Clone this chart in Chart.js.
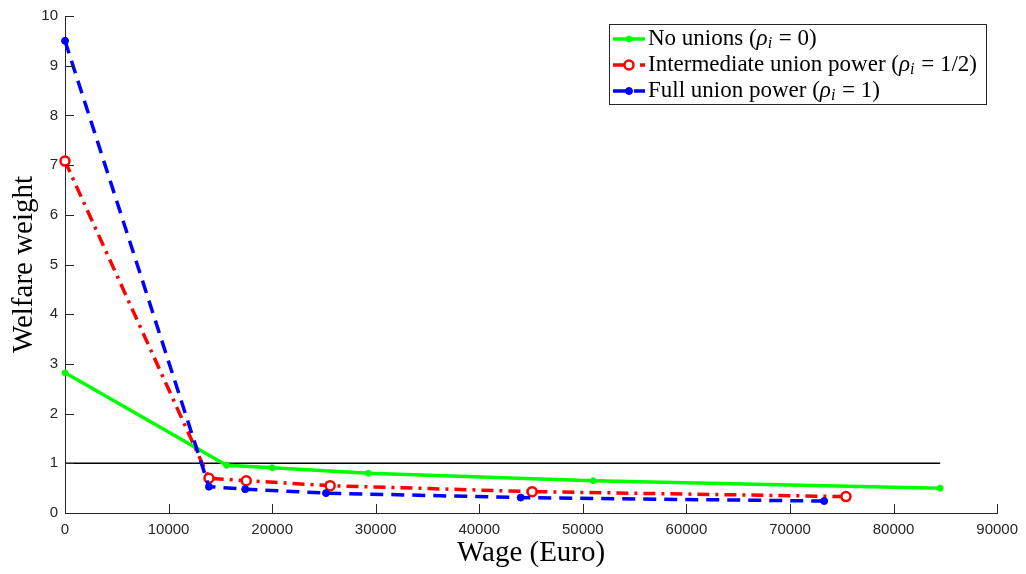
<!DOCTYPE html>
<html>
<head>
<meta charset="utf-8">
<script src="https://cdn.jsdelivr.net/npm/chart.js@4/dist/chart.umd.min.js"></script>
<style>
    html, body { margin: 0; padding: 0; background: #fff; }
    #wrap { width: 1026px; height: 574px; }
</style>
</head>
<body>
<div id="wrap"><canvas id="chart"></canvas></div>
<script>

// values
const wageNone = [ 0, 15600, 20000, 29300, 51000, 84500 ];
const weightNone = [ 2.82, 0.96, 0.91, 0.80, 0.65, 0.50 ];

const wageHalf = [ 0, 13900, 17500, 25600, 45100, 75400 ];
const weightHalf = [ 7.08, 0.70, 0.65, 0.55, 0.43, 0.33 ];

const wageFull = [ 0, 13900, 17400, 25200, 44000, 73300 ];
const weightFull = [ 9.50, 0.53, 0.48, 0.40, 0.31, 0.24 ];

const refWage = [ 0, 84500 ];
const refWeight = [ 1, 1 ];

// legend labels: plain text, then rho with subscript i, then the rest
const legendLabels = [
    [ 'No unions (', ' = 0)' ],
    [ 'Intermediate union power (', ' = 1/2)' ],
    [ 'Full union power (', ' = 1)' ]
];

const xTicks = [ 0, 10000, 20000, 30000, 40000, 50000, 60000, 70000, 80000, 90000 ];
const yTicks = [ 0, 1, 2, 3, 4, 5, 6, 7, 8, 9, 10 ];

const toPoints = ( xs, ys ) => xs.map( ( x, i ) => ( { x, y: ys[ i ] } ) );

const axisColor = '#262626';
const serif = '"Liberation Serif", "Times New Roman", serif';

// MATLAB style ticks pointing into the plot
const inwardTicks = {
    id: 'inwardTicks',
    afterDraw ( chart ) {
        const { ctx, scales: { x, y } } = chart;
        ctx.save();
        ctx.strokeStyle = axisColor;
        ctx.lineWidth = 1;
        ctx.beginPath();
        xTicks.forEach( v => {
            const px = Math.round( x.getPixelForValue( v ) ) + 0.5;
            ctx.moveTo( px, y.bottom );
            ctx.lineTo( px, y.bottom - 9 );
        } );
        yTicks.forEach( v => {
            const py = Math.round( y.getPixelForValue( v ) ) + 0.5;
            ctx.moveTo( x.left, py );
            ctx.lineTo( x.left + 9, py );
        } );
        ctx.stroke();
        ctx.restore();
    }
};

// boxed legend with line samples and the rho_i math
const boxLegend = {
    id: 'boxLegend',
    afterDraw ( chart ) {
        const { ctx } = chart;
        const bx = 609.5, by = 24.5, bw = 377, bh = 80;
        ctx.save();
        ctx.fillStyle = '#fff';
        ctx.fillRect( bx, by, bw, bh );
        ctx.strokeStyle = axisColor;
        ctx.lineWidth = 1;
        ctx.strokeRect( bx, by, bw, bh );

        const rows = [ 39, 65, 91 ];
        legendLabels.forEach( ( parts, i ) => {
            const ds = chart.data.datasets[ i ];
            const cy = rows[ i ];

            ctx.save();
            ctx.strokeStyle = ds.borderColor;
            ctx.lineWidth = ds.borderWidth;
            ctx.setLineDash( ds.borderDash || [] );
            ctx.beginPath();
            ctx.moveTo( 613, cy );
            ctx.lineTo( 645, cy );
            ctx.stroke();
            ctx.setLineDash( [] );
            ctx.beginPath();
            ctx.arc( 629, cy, ds.pointRadius, 0, Math.PI * 2 );
            ctx.fillStyle = ds.pointBackgroundColor;
            ctx.fill();
            ctx.lineWidth = ds.pointBorderWidth;
            ctx.strokeStyle = ds.pointBorderColor;
            ctx.stroke();
            ctx.restore();

            let tx = 648;
            ctx.fillStyle = '#000';
            ctx.textBaseline = 'middle';
            ctx.font = `23px ${ serif }`;
            ctx.fillText( parts[ 0 ], tx, cy );
            tx += ctx.measureText( parts[ 0 ] ).width;
            ctx.font = `italic 23px ${ serif }`;
            ctx.fillText( 'ρ', tx, cy );
            tx += ctx.measureText( 'ρ' ).width;
            ctx.font = `italic 16px ${ serif }`;
            ctx.fillText( 'i', tx, cy + 5 );
            tx += ctx.measureText( 'i' ).width + 1;
            ctx.font = `23px ${ serif }`;
            ctx.fillText( parts[ 1 ], tx, cy );
        } );
        ctx.restore();
    }
};

Chart.defaults.font.family = '"Liberation Sans", Arial, sans-serif';
Chart.defaults.font.size = 15;
Chart.defaults.color = axisColor;
Chart.defaults.animation = false;

new Chart( document.getElementById( 'chart' ), {
    type: 'scatter',
    data: {
        datasets: [ {
            data: toPoints( wageNone, weightNone ),
            showLine: true,
            borderColor: '#00ff00',
            borderWidth: 3.5,
            pointRadius: 3,
            pointBackgroundColor: '#00ff00',
            pointBorderColor: '#00ff00',
            pointBorderWidth: 1,
            order: 3
        }, {
            data: toPoints( wageHalf, weightHalf ),
            showLine: true,
            borderColor: '#ff0000',
            borderWidth: 3.5,
            borderDash: [ 12, 6, 3, 6 ],
            pointRadius: 4.5,
            pointBackgroundColor: '#ffffff',
            pointBorderColor: '#ff0000',
            pointBorderWidth: 2.5,
            order: 2
        }, {
            data: toPoints( wageFull, weightFull ),
            showLine: true,
            borderColor: '#0000ff',
            borderWidth: 3.5,
            borderDash: [ 13, 8 ],
            pointRadius: 3.5,
            pointBackgroundColor: '#0000ff',
            pointBorderColor: '#0000ff',
            pointBorderWidth: 1,
            order: 1
        }, {
            data: toPoints( refWage, refWeight ),
            showLine: true,
            borderColor: '#000000',
            borderWidth: 1.5,
            pointRadius: 0,
            order: 4
        } ]
    },
    options: {
        responsive: true,
        maintainAspectRatio: false,
        clip: false,
        layout: { padding: { top: 13, right: 28, left: 0, bottom: 0 } },
        plugins: {
            legend: { display: false },
            tooltip: { enabled: false }
        },
        scales: {
            x: {
                type: 'linear',
                min: 0,
                max: 90000,
                afterFit: s => { s.height = 61; },
                afterBuildTicks: s => { s.ticks = xTicks.map( value => ( { value } ) ); },
                ticks: { padding: 8, color: axisColor, callback: v => String( v ) },
                grid: { display: false, drawTicks: false },
                border: { display: true, color: axisColor, width: 1 },
                title: {
                    display: true,
                    text: 'Wage (Euro)',
                    color: '#000',
                    font: { family: serif, size: 29 },
                    padding: { top: 0, bottom: 3 }
                }
            },
            y: {
                min: 0,
                max: 10,
                afterFit: s => { s.width = 65; },
                afterBuildTicks: s => { s.ticks = yTicks.map( value => ( { value } ) ); },
                ticks: { padding: 7, color: axisColor },
                grid: { display: false, drawTicks: false },
                border: { display: true, color: axisColor, width: 1 },
                title: {
                    display: true,
                    text: 'Welfare weight',
                    color: '#000',
                    font: { family: serif, size: 29 },
                    padding: { top: 7, bottom: 0 }
                }
            }
        }
    },
    plugins: [ inwardTicks, boxLegend ]
} );

</script>
</body>
</html>
